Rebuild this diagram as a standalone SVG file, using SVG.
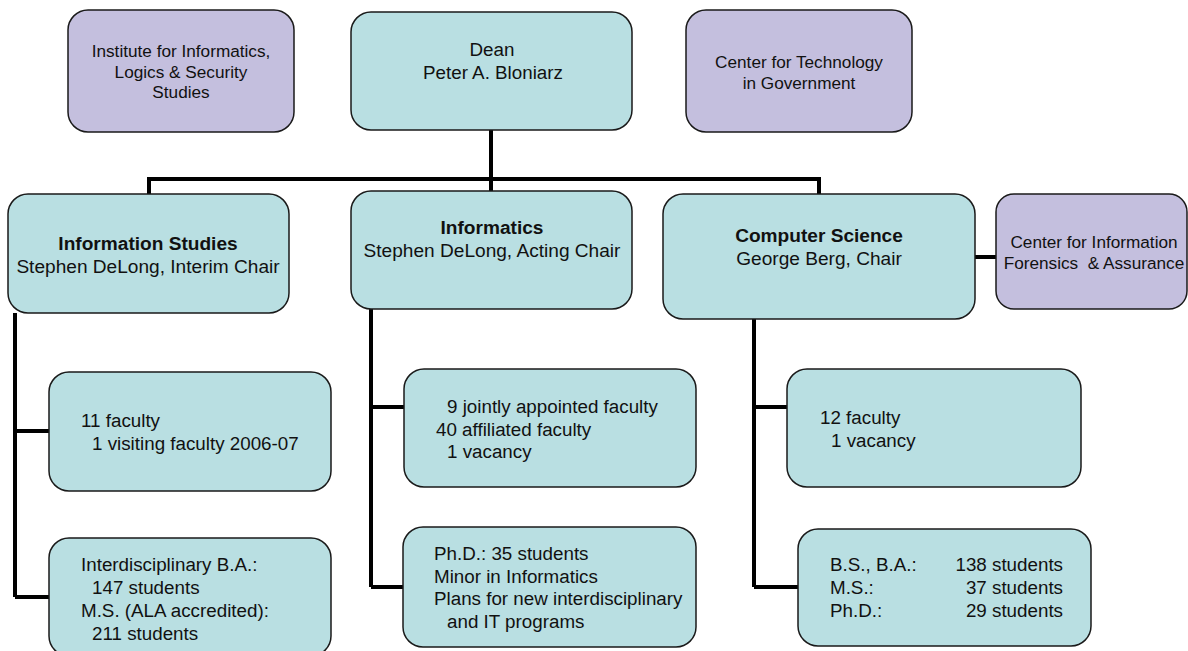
<svg xmlns="http://www.w3.org/2000/svg" width="1188" height="651" viewBox="0 0 1188 651">
<style>
.box{stroke:#1a1a1a;stroke-width:1.5}
.teal{fill:#B9DFE2}
.purple{fill:#C4BFDE}
text{font-family:"Liberation Sans",Arial,sans-serif;fill:#111}
.t{font-size:18.8px}
.d{font-size:19.1px}
.p{font-size:17.2px}
.c{text-anchor:middle}
.b{font-weight:bold}
.e{text-anchor:end}
.conn{fill:none;stroke:#000;stroke-width:4}
</style>
<rect width="1188" height="651" fill="#fff"/>
<g id="connectors">
<path class="conn" d="M491 130 V191"/>
<path class="conn" d="M149 194 V179 H819 V194"/>
<path class="conn" d="M15 313 V597 M15 431 H49 M15 597 H49"/>
<path class="conn" d="M371 309 V587 M371 407 H404 M371 587 H403"/>
<path class="conn" d="M754 319 V587 M754 407 H787 M754 587 H798"/>
<path class="conn" d="M975 257 H996"/>
</g>
<g id="institute">
<rect class="box purple" x="68" y="10" width="226" height="122" rx="20"/>
<text class="p c" x="181" y="57">Institute for Informatics,</text>
<text class="p c" x="181" y="78">Logics &amp; Security</text>
<text class="p c" x="181" y="98">Studies</text>
</g>
<g id="dean">
<rect class="box teal" x="351" y="12" width="281" height="118" rx="20"/>
<text class="t c" x="492" y="56">Dean</text>
<text class="t c" x="493" y="79">Peter A. Bloniarz</text>
</g>
<g id="ctg">
<rect class="box purple" x="686" y="10" width="226" height="122" rx="20"/>
<text class="p c" x="799" y="68">Center for Technology</text>
<text class="p c" x="799" y="89">in Government</text>
</g>
<g id="infostudies">
<rect class="box teal" x="8" y="194" width="281" height="119" rx="20"/>
<text class="d c b" x="148" y="250">Information Studies</text>
<text class="d c" x="148" y="273">Stephen DeLong, Interim Chair</text>
</g>
<g id="informatics">
<rect class="box teal" x="351" y="191" width="281" height="118" rx="20"/>
<text class="d c b" x="492" y="234">Informatics</text>
<text class="d c" x="492" y="257">Stephen DeLong, Acting Chair</text>
</g>
<g id="cs">
<rect class="box teal" x="663" y="194" width="312" height="125" rx="20"/>
<text class="d c b" x="819" y="242">Computer Science</text>
<text class="d c" x="819" y="265">George Berg, Chair</text>
</g>
<g id="cifa">
<rect class="box purple" x="996" y="194" width="191" height="115" rx="18"/>
<text class="p c" x="1094" y="248">Center for Information</text>
<text class="p c" x="1094" y="269" xml:space="preserve">Forensics  &amp; Assurance</text>
</g>
<g id="is-faculty">
<rect class="box teal" x="49" y="372" width="282" height="119" rx="20"/>
<text class="t" x="81" y="427">11 faculty</text>
<text class="t" x="92" y="450">1 visiting faculty 2006-07</text>
</g>
<g id="is-students">
<rect class="box teal" x="49" y="538" width="282" height="118" rx="20"/>
<text class="t" x="81" y="571">Interdisciplinary B.A.:</text>
<text class="t" x="92" y="594">147 students</text>
<text class="t" x="81" y="617">M.S. (ALA accredited):</text>
<text class="t" x="92" y="640">211 students</text>
</g>
<g id="inf-faculty">
<rect class="box teal" x="404" y="369" width="292" height="118" rx="20"/>
<text class="t" x="447" y="413">9 jointly appointed faculty</text>
<text class="t" x="436" y="436">40 affiliated faculty</text>
<text class="t" x="447" y="458">1 vacancy</text>
</g>
<g id="inf-students">
<rect class="box teal" x="403" y="527" width="293" height="120" rx="20"/>
<text class="t" x="434" y="560">Ph.D.: 35 students</text>
<text class="t" x="434" y="583">Minor in Informatics</text>
<text class="t" x="434" y="605">Plans for new interdisciplinary</text>
<text class="t" x="447" y="628">and IT programs</text>
</g>
<g id="cs-faculty">
<rect class="box teal" x="787" y="369" width="294" height="118" rx="20"/>
<text class="t" x="820" y="424">12 faculty</text>
<text class="t" x="831" y="447">1 vacancy</text>
</g>
<g id="cs-students">
<rect class="box teal" x="798" y="529" width="293" height="117" rx="20"/>
<text class="t" x="830" y="571">B.S., B.A.:</text>
<text class="t" x="830" y="594">M.S.:</text>
<text class="t" x="830" y="617">Ph.D.:</text>
<text class="t e" x="1063" y="571">138 students</text>
<text class="t e" x="1063" y="594">37 students</text>
<text class="t e" x="1063" y="617">29 students</text>
</g>
</svg>
